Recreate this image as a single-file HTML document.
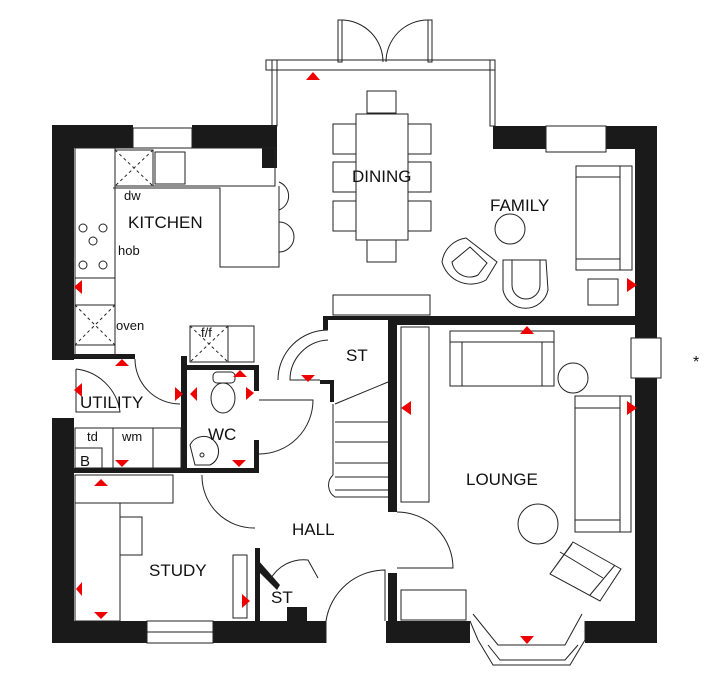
<!DOCTYPE html><html><head><style>body{margin:0;background:#fff}svg{display:block}text{font-family:"Liberation Sans",sans-serif;fill:#111}</style></head><body>
<svg width="714" height="687" viewBox="0 0 714 687" xmlns="http://www.w3.org/2000/svg">
<g fill="#1a1a1a">
<rect x="52" y="125" width="22" height="235"/><rect x="52" y="418" width="22" height="225"/>
<rect x="52" y="125" width="81" height="23"/><rect x="192" y="125" width="85" height="23"/>
<rect x="262" y="148" width="15" height="20"/>
<rect x="493" y="126" width="53" height="23"/><rect x="606" y="126" width="51" height="23"/>
<rect x="635" y="126" width="22" height="212"/><rect x="635" y="378" width="22" height="265"/>
<rect x="52" y="621" width="95" height="22"/><rect x="213" y="621" width="113" height="22"/>
<rect x="386" y="621" width="84" height="22"/><rect x="585" y="621" width="72" height="22"/>
<rect x="74" y="354" width="61" height="5"/><rect x="74" y="468" width="184" height="5"/>
<rect x="181" y="356" width="6" height="117"/><rect x="181" y="365" width="77" height="5"/>
<rect x="254" y="365" width="5" height="26"/><rect x="254" y="440" width="5" height="33"/>
<rect x="323" y="316" width="67" height="4"/><rect x="323" y="316" width="5" height="14"/>
<rect x="320" y="380" width="12" height="4"/><rect x="330" y="380" width="4" height="22"/>
<rect x="388" y="316" width="9" height="196"/><rect x="388" y="573" width="9" height="48"/>
<rect x="390" y="316" width="245" height="9"/>
<rect x="255" y="548" width="5" height="73"/><rect x="287" y="607" width="20" height="14"/>
</g>
<polygon points="258,560 280,585 277,590 255,568" fill="#1a1a1a"/>
<g fill="none" stroke="#222" stroke-width="1">
<rect x="272" y="60" width="5" height="66"/><rect x="490" y="60" width="5" height="66"/>
<rect x="266" y="60" width="229" height="10"/><line x1="277" y1="70" x2="490" y2="70"/>
<rect x="338" y="20" width="4" height="42"/><rect x="428" y="20" width="4" height="42"/>
<path d="M342 20 A42 42 0 0 1 383 62 M428 20 A42 42 0 0 0 386 62"/>
<rect x="133" y="128" width="59" height="20"/><rect x="546" y="126" width="60" height="26"/>
<rect x="631" y="338" width="30" height="40"/>
<rect x="147" y="621" width="66" height="22"/><line x1="147" y1="632" x2="213" y2="632"/>
<path d="M470 621 L478 640 L493 665 L570 665 L585 640 L585 621 M473 614 L498 645 L565 645 L582 614 M488 645 L500 660 L565 660 L578 645"/>
<path d="M326 643 L326 621 A60 60 0 0 1 385 570 L385 621"/>
<rect x="75" y="148" width="40" height="208"/><rect x="115" y="148" width="160" height="38"/>
<rect x="115" y="150" width="38" height="36"/><rect x="155" y="152" width="30" height="32"/>
<path d="M115 150 L153 186 M153 150 L115 186 M75 305 L115 345 M115 305 L75 345 M190 326 L228 362 M228 326 L190 362" stroke-dasharray="3,3"/>
<polyline points="113,188 220,188 220,267 279,267 279,186"/>
<path d="M279 182 A15 15 0 0 1 279 210 M279 222 A15 15 0 0 1 279 252"/>
<circle cx="83" cy="228" r="4"/><circle cx="103" cy="228" r="4"/><circle cx="93" cy="241" r="4"/><circle cx="83" cy="265" r="4"/><circle cx="103" cy="265" r="4"/>
<line x1="75" y1="278" x2="115" y2="278"/><line x1="75" y1="305" x2="115" y2="305"/><line x1="75" y1="345" x2="115" y2="345"/>
<rect x="190" y="326" width="38" height="36"/><rect x="228" y="326" width="26" height="36"/>
<rect x="367" y="91" width="29" height="22"/><rect x="356" y="114" width="52" height="126"/><rect x="367" y="240" width="29" height="22"/>
<rect x="333" y="124" width="23" height="30"/><rect x="333" y="162" width="23" height="30"/><rect x="333" y="201" width="23" height="30"/>
<rect x="408" y="124" width="23" height="30"/><rect x="408" y="162" width="23" height="30"/><rect x="408" y="201" width="23" height="30"/>
<rect x="333" y="295" width="97" height="20"/>
<circle cx="510" cy="229" r="15"/>
<rect x="576" y="166" width="56" height="104"/><line x1="576" y1="177" x2="620" y2="177"/><line x1="576" y1="259" x2="620" y2="259"/><line x1="620" y1="166" x2="620" y2="270"/>
<rect x="588" y="279" width="30" height="26"/>
<path d="M466 238 L497 262 L486 280 A30 30 0 0 1 442 262 A28 28 0 0 1 466 238 Z M470 247 L487 263 L478 275 A18 18 0 0 1 452 262 Z"/>
<path d="M503 260 L546 260 L548 290 A23 23 0 0 1 503 290 Z M512 260 L540 260 L540 285 A14 14 0 0 1 512 285 Z"/>
<rect x="450" y="331" width="104" height="55"/><line x1="450" y1="342" x2="554" y2="342"/><line x1="462" y1="342" x2="462" y2="386"/><line x1="542" y1="342" x2="542" y2="386"/>
<circle cx="573" cy="378" r="15"/>
<rect x="575" y="396" width="56" height="136"/><line x1="575" y1="408" x2="620" y2="408"/><line x1="575" y1="520" x2="620" y2="520"/><line x1="620" y1="396" x2="620" y2="532"/>
<circle cx="538" cy="524" r="20"/>
<path d="M573 542 L621 569 L600 601 L550 574 Z M560 552 L603 578 M572 544 L550 574 M615 565 L590 595"/>
<rect x="401" y="327" width="28" height="175"/><rect x="401" y="590" width="65" height="30"/>
<path d="M335 404 L388 382 M335 422 L388 422 M335 442 L388 442 M335 463 L388 463 M335 477 L388 477 M335 490 L388 490 M333 404 L333 475 M333 475 A14 14 0 0 0 335 497 L388 497"/>
<ellipse cx="223" cy="398" rx="12" ry="15"/><rect x="213" y="372" width="22" height="11" rx="4"/>
<path d="M190 445 A15 15 0 1 1 210 465 L195 465 Z"/><circle cx="202" cy="455" r="2"/>
<path d="M135 359 A45 45 0 0 0 180 404 M259 400 L313 400 A54 54 0 0 1 259 454 M328 330 A50 50 0 0 0 278 380 M328 340 A40 40 0 0 0 290 380 L320 380 M202 475 A52 52 0 0 0 255 528 M397 512 A56 56 0 0 1 453 568 L397 568 M76 369 A50 50 0 0 1 120 412 L76 412 L76 369 M270 580 A38 38 0 0 1 308 560 L318 578"/>
<rect x="75" y="428" width="38" height="40"/><rect x="113" y="428" width="40" height="40"/><rect x="153" y="428" width="28" height="40"/><rect x="75" y="448" width="27" height="20"/>
<rect x="75" y="475" width="98" height="28"/><rect x="75" y="503" width="45" height="118"/><rect x="120" y="517" width="22" height="38"/>
<rect x="233" y="555" width="14" height="63"/>
</g>
<g fill="#e00">
<polygon points="306,80 320,80 313,72"/><polygon points="627,278 637,285 627,292"/><polygon points="520,334 534,334 527,326"/>
<polygon points="411,401 401,408 411,415"/><polygon points="627,401 637,408 627,415"/><polygon points="520,636 534,636 527,644"/>
<polygon points="82,280 74,287 82,294"/><polygon points="115,366 129,366 122,359"/><polygon points="82,383 74,390 82,397"/>
<polygon points="175,387 183,394 175,401"/><polygon points="197,387 190,394 197,401"/><polygon points="233,377 247,377 240,370"/>
<polygon points="246,387 254,393 246,400"/><polygon points="232,460 246,460 239,467"/><polygon points="115,460 129,460 122,467"/>
<polygon points="301,375 315,375 308,382"/><polygon points="94,486 108,486 101,479"/><polygon points="82,582 76,589 82,596"/>
<polygon points="94,612 108,612 101,619"/><polygon points="242,594 250,601 242,608"/>
</g>
<g font-size="17">
<text x="128" y="228">KITCHEN</text><text x="352" y="182">DINING</text><text x="490" y="211">FAMILY</text>
<text x="346" y="361">ST</text><text x="80" y="408">UTILITY</text><text x="208" y="440">WC</text>
<text x="466" y="485">LOUNGE</text><text x="292" y="535">HALL</text><text x="149" y="576">STUDY</text><text x="271" y="603">ST</text>
</g>
<g font-size="13"><text x="124" y="200">dw</text><text x="118" y="255">hob</text><text x="116" y="330">oven</text><text x="201" y="337">f/f</text>
<text x="87" y="441">td</text><text x="122" y="441">wm</text><text x="80" y="466" font-size="15">B</text></g>
<text x="693" y="367" font-size="16">*</text>
</svg></body></html>
